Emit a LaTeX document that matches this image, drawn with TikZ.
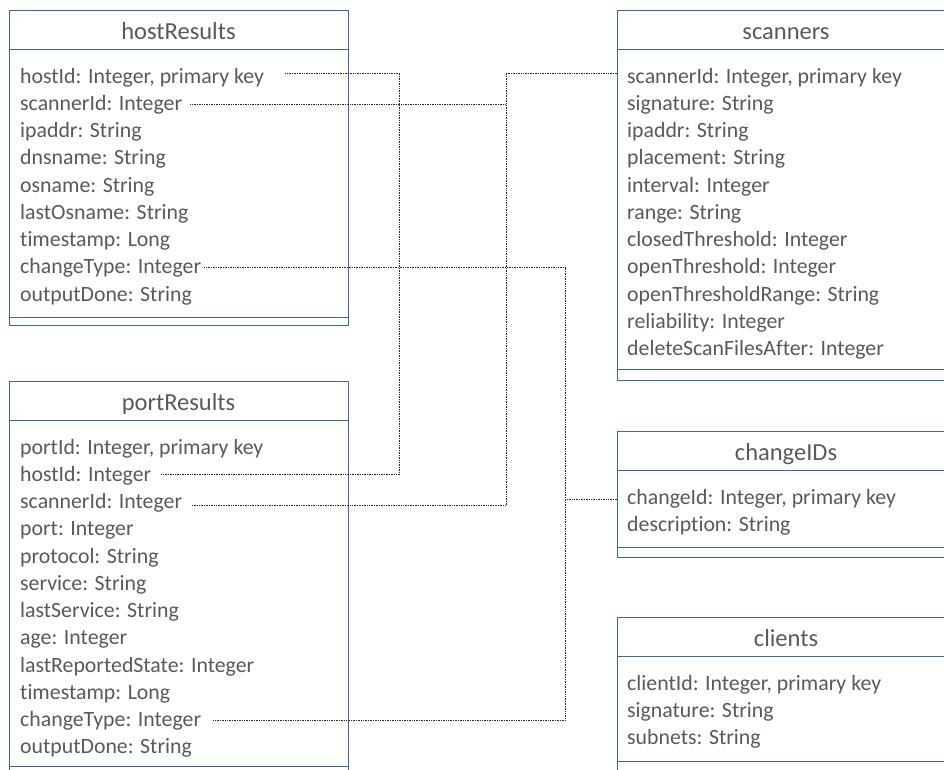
\documentclass[tikz,border=0pt]{standalone}
\usepackage{fontspec}
\setmainfont{Carlito}[Ligatures=NoCommon]

\definecolor{tblblue}{RGB}{58,106,165}
\definecolor{txtgray}{RGB}{89,89,89}

\tikzset{
  tbl/.style={draw=tblblue, line width=0.9pt, inner sep=0pt, outer sep=0pt, anchor=north west},
  tblline/.style={draw=tblblue, line width=0.9pt},
  tbltitle/.style={anchor=base, inner sep=0pt, text=txtgray, font=\fontsize{24.5}{29}\selectfont},
  row/.style={anchor=base west, inner sep=0pt, text height=15pt, text depth=5pt, text=txtgray, font=\fontsize{21.8}{26}\selectfont},
  link/.style={densely dotted, line width=0.7pt, black!85}
}

\begin{document}
\begin{tikzpicture}[x=1pt, y=-1pt]
  \useasboundingbox (0,0) rectangle (944,769);
  \clip (0,0) rectangle (944,769);

  % Tables
  \node[tbl, minimum width=339pt, minimum height=315pt] (hr) at (9,10) {};
  \node[tbl, minimum width=339pt, minimum height=399pt] (pr) at (9,381) {};
  \node[tbl, minimum width=338pt, minimum height=370pt] (sc) at (617,10) {};
  \node[tbl, minimum width=338pt, minimum height=126pt] (ch) at (617,431) {};
  \node[tbl, minimum width=338pt, minimum height=163pt] (cl) at (617,617) {};

  % Header and footer lines
  \draw[tblline] (hr.west |- 0,49) -- (hr.east |- 0,49);
  \draw[tblline] (hr.west |- 0,317) -- (hr.east |- 0,317);
  \draw[tblline] (pr.west |- 0,420) -- (pr.east |- 0,420);
  \draw[tblline] (pr.west |- 0,766) -- (pr.east |- 0,766);
  \draw[tblline] (sc.west |- 0,49) -- (sc.east |- 0,49);
  \draw[tblline] (sc.west |- 0,369) -- (sc.east |- 0,369);
  \draw[tblline] (ch.west |- 0,470) -- (ch.east |- 0,470);
  \draw[tblline] (ch.west |- 0,547) -- (ch.east |- 0,547);
  \draw[tblline] (cl.west |- 0,656) -- (cl.east |- 0,656);
  \draw[tblline] (cl.west |- 0,761) -- (cl.east |- 0,761);

  % Titles
  \node[tbltitle] (hrT) at (178.5,39) {hostResults};
  \node[tbltitle] (prT) at (178.5,410) {portResults};
  \node[tbltitle] (scT) at (786,39) {scanners};
  \node[tbltitle] (chT) at (786,460) {changeIDs};
  \node[tbltitle] (clT) at (786,646) {clients};

  % hostResults fields
  \node[row] (hr1) at (20,83) {hostId: Integer, primary key};
  \node[row] (hr2) at (20,110.25) {scannerId: Integer};
  \node[row] (hr3) at (20,137.5) {ipaddr: String};
  \node[row] (hr4) at (20,164.75) {dnsname: String};
  \node[row] (hr5) at (20,192) {osname: String};
  \node[row] (hr6) at (20,219.25) {lastOsname: String};
  \node[row] (hr7) at (20,246.5) {timestamp: Long};
  \node[row] (hr8) at (20,273.75) {changeType: Integer};
  \node[row] (hr9) at (20,301) {outputDone: String};

  % portResults fields
  \node[row] (pr1) at (20,454) {portId: Integer, primary key};
  \node[row] (pr2) at (20,481.25) {hostId: Integer};
  \node[row] (pr3) at (20,508.5) {scannerId: Integer};
  \node[row] (pr4) at (20,535.75) {port: Integer};
  \node[row] (pr5) at (20,563) {protocol: String};
  \node[row] (pr6) at (20,590.25) {service: String};
  \node[row] (pr7) at (20,617.5) {lastService: String};
  \node[row] (pr8) at (20,644.75) {age: Integer};
  \node[row] (pr9) at (20,672) {lastReportedState: Integer};
  \node[row] (pr10) at (20,699.25) {timestamp: Long};
  \node[row] (pr11) at (20,726.5) {changeType: Integer};
  \node[row] (pr12) at (20,753.75) {outputDone: String};

  % scanners fields
  \node[row] (sc1) at (627,83) {scannerId: Integer, primary key};
  \node[row] (sc2) at (627,110.25) {signature: String};
  \node[row] (sc3) at (627,137.5) {ipaddr: String};
  \node[row] (sc4) at (627,164.75) {placement: String};
  \node[row] (sc5) at (627,192) {interval: Integer};
  \node[row] (sc6) at (627,219.25) {range: String};
  \node[row] (sc7) at (627,246.5) {closedThreshold: Integer};
  \node[row] (sc8) at (627,273.75) {openThreshold: Integer};
  \node[row] (sc9) at (627,301) {openThresholdRange: String};
  \node[row] (sc10) at (627,328.25) {reliability: Integer};
  \node[row] (sc11) at (627,355.5) {deleteScanFilesAfter: Integer};

  % changeIDs fields
  \node[row] (ch1) at (627,504) {changeId: Integer, primary key};
  \node[row] (ch2) at (627,531.25) {description: String};

  % clients fields
  \node[row] (cl1) at (627,690) {clientId: Integer, primary key};
  \node[row] (cl2) at (627,717.25) {signature: String};
  \node[row] (cl3) at (627,744.5) {subnets: String};

  % Links
  \coordinate (hostBus) at (399.5,300);
  \coordinate (scanBus) at (506,300);
  \coordinate (chgBus) at (565,500);

  \draw[link] ([xshift=21pt,yshift=5pt]hr1.east) -| (hostBus) |- ([xshift=9pt,yshift=2pt]pr2.east);
  \draw[link] ([yshift=5pt]sc1.west -| sc.west) -| (scanBus) |- ([xshift=9pt,yshift=-2pt]pr3.east);
  \draw[link] ([xshift=8pt,yshift=1pt]hr2.east) -- ([yshift=1pt]hr2.east -| scanBus);
  \draw[link] ([xshift=3pt,yshift=1pt]hr8.east) -| (chgBus) |- ([xshift=11pt,yshift=1pt]pr11.east);
  \draw[link] (ch1.west -| ch.west) -- (ch1.west -| chgBus);
\end{tikzpicture}
\end{document}
